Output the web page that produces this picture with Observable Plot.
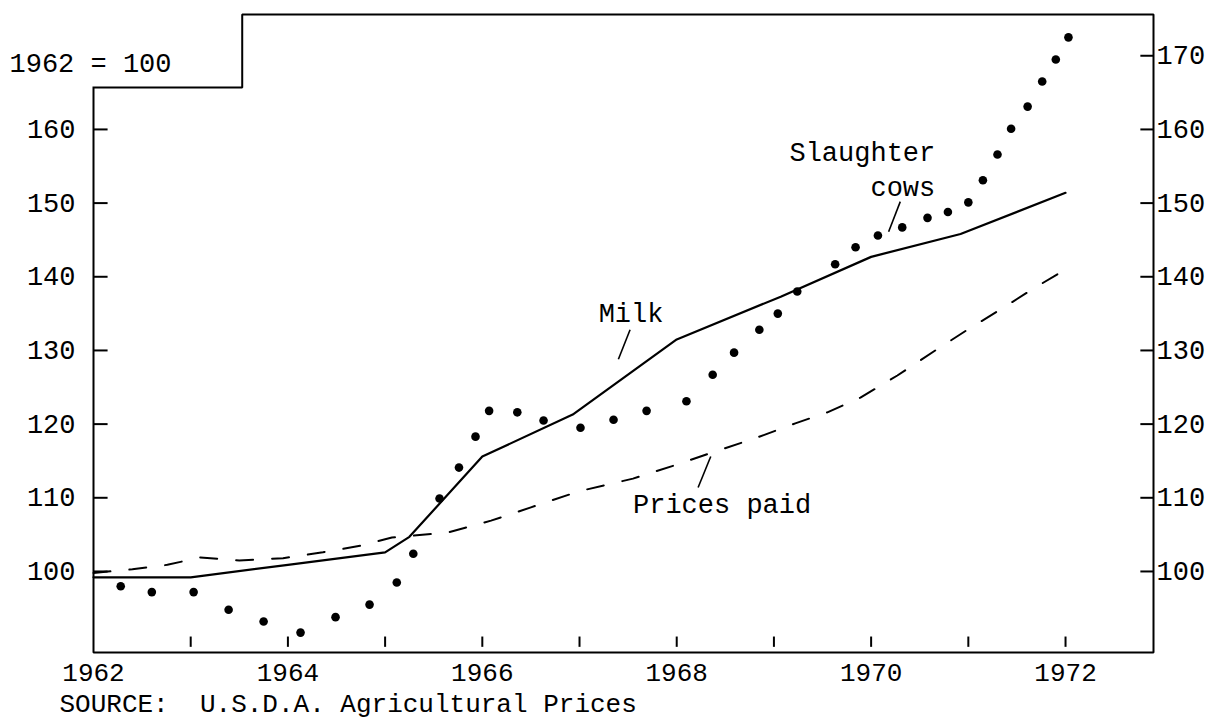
<!DOCTYPE html>
<html>
<head>
<meta charset="utf-8">
<script src="https://cdn.jsdelivr.net/npm/d3@7"></script>
<script src="https://cdn.jsdelivr.net/npm/@observablehq/plot@0.6"></script>
<style>
  html, body { margin: 0; padding: 0; background: white; }
  #chart svg { display: block; }
</style>
</head>
<body>
<div id="chart"></div>
<script>
// ---- Data ----
const milkYears  = [1962, 1963, 1964, 1965, 1965.25, 1966, 1966.93, 1968, 1969.07, 1970, 1970.92, 1972];
const milkIndex  = [99.2, 99.2, 100.9, 102.6, 104.7, 115.6, 121.3, 131.5, 137.3, 142.7, 145.8, 151.4];

const pricesPaidYears = [1962, 1962.4, 1962.76, 1963.1, 1963.5, 1963.95, 1964.36, 1964.75, 1965.07, 1965.65, 1966.09, 1966.5, 1967.0, 1967.55, 1968.0, 1968.42, 1968.79, 1969.22, 1969.55, 1969.89, 1970.27, 1970.66, 1970.99, 1971.36, 1971.67, 1972.0];
const pricesPaidIndex = [99.8, 100.3, 100.9, 101.9, 101.5, 101.8, 102.6, 103.5, 104.6, 105.3, 106.9, 108.7, 110.9, 112.6, 114.5, 116.4, 118.0, 120.1, 121.6, 123.6, 126.6, 130.0, 132.8, 135.8, 138.4, 141.0];

const cowsYears = [1962.28, 1962.60, 1963.03, 1963.39, 1963.75, 1964.13, 1964.49, 1964.84, 1965.12, 1965.29, 1965.56, 1965.76, 1965.93, 1966.07, 1966.36, 1966.63, 1967.01, 1967.35, 1967.69, 1968.10, 1968.37, 1968.59, 1968.85, 1969.04, 1969.24, 1969.63, 1969.84, 1970.07, 1970.32, 1970.58, 1970.79, 1971.00, 1971.15, 1971.30, 1971.44, 1971.61, 1971.76, 1971.90, 1972.03];
const cowsIndex = [98.0, 97.2, 97.2, 94.8, 93.2, 91.7, 93.8, 95.5, 98.5, 102.4, 109.9, 114.1, 118.3, 121.8, 121.6, 120.5, 119.5, 120.6, 121.8, 123.1, 126.7, 129.7, 132.8, 135.0, 138.0, 141.7, 144.0, 145.6, 146.7, 148.0, 148.8, 150.1, 153.1, 156.6, 160.1, 163.1, 166.5, 169.5, 172.5];

const leftTicks  = [100, 110, 120, 130, 140, 150, 160];
const rightTicks = [100, 110, 120, 130, 140, 150, 160, 170];
const xTickYears  = [1963, 1964, 1965, 1966, 1967, 1968, 1969, 1970, 1971, 1972];
const xLabelYears = [1962, 1964, 1966, 1968, 1970, 1972];

const titleText   = "1962 = 100";
const captionText = "SOURCE:\u00A0 U.S.D.A. Agricultural Prices";

// series labels placed in data coordinates
const labelsMiddle = [{text: "Milk", x: 1967.53, y: 135.1}];
const labelsEnd    = [{text: "Slaughter", x: 1970.66, y: 156.9}, {text: "cows", x: 1970.66, y: 152.2}];
const labelsStart  = [{text: "Prices paid", x: 1967.55, y: 109.1}];
const leaders = [
  {x1: 1967.52, y1: 132.8, x2: 1967.40, y2: 128.8},
  {x1: 1970.30, y1: 150.2, x2: 1970.18, y2: 146.1},
  {x1: 1968.35, y1: 115.6, x2: 1968.22, y2: 111.4}
];

// ---- scales / frame geometry ----
const xDomain = [1962, 1972.905];
const yDomain = [89, 175.6];
const stepX = 1963.53, stepY = 165.7;   // notch in the frame for the base label

const milk  = milkYears.map((x, i) => ({x, y: milkIndex[i]}));
const paid  = pricesPaidYears.map((x, i) => ({x, y: pricesPaidIndex[i]}));
const cows  = cowsYears.map((x, i) => ({x, y: cowsIndex[i]}));
const framePath = [
  {x: xDomain[0], y: stepY}, {x: stepX, y: stepY}, {x: stepX, y: yDomain[1]},
  {x: xDomain[1], y: yDomain[1]}, {x: xDomain[1], y: yDomain[0]},
  {x: xDomain[0], y: yDomain[0]}, {x: xDomain[0], y: stepY}
];

const font = "'Liberation Mono', 'DejaVu Sans Mono', monospace";
const fs = 27;

const chart = Plot.plot({
  width: 1209,
  height: 719,
  marginLeft: 93,
  marginRight: 56,
  marginTop: 14,
  marginBottom: 67,
  x: {domain: xDomain, axis: null},
  y: {domain: yDomain, axis: null},
  style: {fontFamily: font, background: "white", color: "black"},
  marks: [
    // frame
    Plot.line(framePath, {x: "x", y: "y", stroke: "black", strokeWidth: 2, strokeLinejoin: "miter", strokeLinecap: "square"}),
    // inner ticks
    Plot.ruleY(leftTicks, {y: d => d, x1: xDomain[0], x2: xDomain[0] + 0.15, stroke: "black", strokeWidth: 2}),
    Plot.ruleY(rightTicks, {y: d => d, x1: xDomain[1] - 0.13, x2: xDomain[1], stroke: "black", strokeWidth: 2}),
    Plot.ruleX(xTickYears, {x: d => d, y1: yDomain[0] + 0.7, y2: yDomain[0] + 2.1, stroke: "black", strokeWidth: 2}),
    // tick labels
    Plot.text(leftTicks, {y: d => d, text: d => String(d), frameAnchor: "left", dx: -18, textAnchor: "end", lineAnchor: "middle", fontSize: fs, fill: "black"}),
    Plot.text(rightTicks, {y: d => d, text: d => String(d), frameAnchor: "right", dx: 3, textAnchor: "start", lineAnchor: "middle", fontSize: fs, fill: "black"}),
    Plot.text(xLabelYears, {x: d => d, text: d => String(d), frameAnchor: "bottom", dy: 20, lineAnchor: "middle", fontSize: 26, fill: "black"}),
    // series
    Plot.line(paid, {x: "x", y: "y", stroke: "black", strokeWidth: 2, strokeDasharray: "17,19"}),
    Plot.line(milk, {x: "x", y: "y", stroke: "black", strokeWidth: 2.2}),
    Plot.dot(cows, {x: "x", y: "y", r: 4.3, fill: "black", stroke: "none"}),
    // annotations
    Plot.link(leaders, {x1: "x1", y1: "y1", x2: "x2", y2: "y2", stroke: "black", strokeWidth: 1.6}),
    Plot.text(labelsMiddle, {x: "x", y: "y", text: "text", textAnchor: "middle", lineAnchor: "middle", fontSize: fs, fill: "black"}),
    Plot.text(labelsEnd, {x: "x", y: "y", text: "text", textAnchor: "end", lineAnchor: "middle", fontSize: fs, fill: "black"}),
    Plot.text(labelsStart, {x: "x", y: "y", text: "text", textAnchor: "start", lineAnchor: "middle", fontSize: fs, fill: "black"}),
    // base label and source
    Plot.text([titleText], {text: d => d, frameAnchor: "top-left", dx: -84, dy: 49, textAnchor: "start", lineAnchor: "middle", fontSize: fs, fill: "black"}),
    Plot.text([captionText], {text: d => d, frameAnchor: "bottom-left", dx: -34, dy: 51, textAnchor: "start", lineAnchor: "middle", fontSize: 26, fill: "black"})
  ]
});
document.getElementById("chart").appendChild(chart);
</script>
</body>
</html>
